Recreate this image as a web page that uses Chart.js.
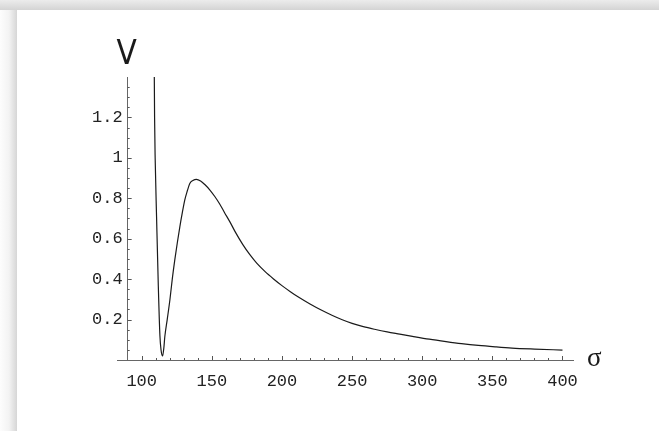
<!DOCTYPE html>
<html>
<head>
<meta charset="utf-8">
<script src="https://cdn.jsdelivr.net/npm/chart.js@4.4.0/dist/chart.umd.min.js"></script>
<style>
html, body { margin: 0; padding: 0; width: 659px; height: 431px; overflow: hidden; background: #fff; }
#topShade { position: absolute; left: 0; top: 0; width: 659px; height: 10px; background: linear-gradient(to bottom, #ececec, #d4d4d4); }
#leftShade { position: absolute; left: 0; top: 10px; width: 17px; height: 421px; background: linear-gradient(to right, #fdfdfd 0, #f3f3f3 9px, #d6d6d6 17px); }
#wrap { position: absolute; left: 0; top: 0; width: 659px; height: 431px; }
</style>
</head>
<body>
<div id="topShade"></div>
<div id="leftShade"></div>
<div id="wrap"><canvas id="chart" width="659" height="431"></canvas></div>
<script>
// curve
let sigma = [108.8, 109.2, 109.6, 110.6, 111.8, 113.0, 113.8, 114.9, 115.8, 116.5, 118.2, 120.1, 121.8,
    123.6, 125.4, 127.2, 129.0, 130.7, 132.5, 134.3, 136.5, 139.0, 142.0, 145.0, 148.5, 152.0, 155.5,
    159.0, 163.0, 167.0, 172.0, 177.0, 182.0, 188.0, 194.0, 200.0, 206.0, 212.0, 220.0, 228.0, 236.0,
    243.0, 250.0, 258.0, 266.0, 275.0, 284.0, 293.0, 305.0, 317.0, 328.0, 340.0, 352.0, 364.0, 380.0, 400.0];
let vals = [1.6, 1.2, 1.0, 0.71, 0.38, 0.12, 0.05, 0.02, 0.06, 0.116, 0.2, 0.297, 0.40,
    0.495, 0.58, 0.659, 0.73, 0.791, 0.836, 0.873, 0.888, 0.894, 0.886, 0.868, 0.842, 0.810, 0.773,
    0.730, 0.682, 0.630, 0.572, 0.522, 0.479, 0.437, 0.401, 0.368, 0.338, 0.310, 0.277, 0.247, 0.220,
    0.199, 0.181, 0.165, 0.152, 0.139, 0.128, 0.117, 0.103, 0.091, 0.081, 0.072, 0.065, 0.059, 0.054, 0.049];

let xTicks = [100, 150, 200, 250, 300, 350, 400];
let yTicks = [0.2, 0.4, 0.6, 0.8, 1, 1.2];
let xLabel = "σ";
let yLabel = "V";

let points = [];
for (let i = 0; i < sigma.length; i++) {
    points.push({ x: sigma[i], y: vals[i] });
}

// axes cross here, like the original
let crossX = 90;

// small inward ticks + axis names
let axisDecor = {
    id: "axisDecor",
    afterDraw(chart) {
        let ctx = chart.ctx;
        let xs = chart.scales.x;
        let ys = chart.scales.y;
        let ax = xs.getPixelForValue(crossX);
        let ay = ys.getPixelForValue(0);
        ctx.save();
        ctx.strokeStyle = "#555";
        ctx.lineWidth = 1;
        ctx.beginPath();
        for (let v = 100; v <= 400; v += 10) {
            let px = Math.round(xs.getPixelForValue(v)) + 0.5;
            let len = (v % 50 === 0) ? 4 : 2;
            ctx.moveTo(px, ay);
            ctx.lineTo(px, ay - len);
        }
        for (let k = 1; k <= 27; k++) {
            let v = k * 0.05;
            let py = Math.round(ys.getPixelForValue(v)) + 0.5;
            let len = (k % 4 === 0) ? 4 : 2;
            ctx.moveTo(ax, py);
            ctx.lineTo(ax + len, py);
        }
        ctx.stroke();

        // y tick labels, set off from the axis line
        ctx.fillStyle = "#222";
        ctx.font = "17px 'Liberation Mono'";
        ctx.textAlign = "right";
        ctx.textBaseline = "middle";
        yTicks.forEach(v => {
            ctx.fillText(String(v), ax - 5, ys.getPixelForValue(v));
        });

        ctx.fillStyle = "#1a1a1a";
        ctx.textAlign = "center";
        ctx.textBaseline = "alphabetic";
        ctx.font = "33px 'DejaVu Sans Condensed', 'DejaVu Sans'";
        ctx.fillText(yLabel, ax - 1, chart.chartArea.top - 13);
        ctx.font = "27px 'Liberation Serif'";
        ctx.textAlign = "left";
        ctx.fillText(xLabel, chart.chartArea.right + 14, ay + 6);
        ctx.restore();
    }
};

new Chart("chart", {
    type: "line",
    data: {
        datasets: [{
            data: points,
            borderColor: "#1a1a1a",
            borderWidth: 1.2,
            pointRadius: 0,
            fill: false,
            cubicInterpolationMode: "monotone"
        }]
    },
    options: {
        responsive: false,
        animation: false,
        layout: { padding: { left: 117, right: 86, top: 77, bottom: 31 } },
        plugins: { legend: { display: false }, tooltip: { enabled: false } },
        scales: {
            x: {
                type: "linear",
                min: 82.4,
                max: 407.5,
                grid: { display: false, drawTicks: false },
                border: { color: "#666", width: 1 },
                ticks: {
                    font: { family: "Liberation Mono", size: 17 },
                    color: "#222",
                    padding: 11,
                    callback: v => String(v)
                },
                afterBuildTicks: s => { s.ticks = xTicks.map(v => ({ value: v })); },
                afterFit: s => { s.height = 40; }
            },
            y: {
                type: "linear",
                min: 0,
                max: 1.4,
                position: { x: crossX },
                grid: { display: false, drawTicks: false },
                border: { color: "#666", width: 1 },
                ticks: { display: false },
                afterBuildTicks: s => { s.ticks = yTicks.map(v => ({ value: v })); }
            }
        }
    },
    plugins: [axisDecor]
});
</script>
</body>
</html>
